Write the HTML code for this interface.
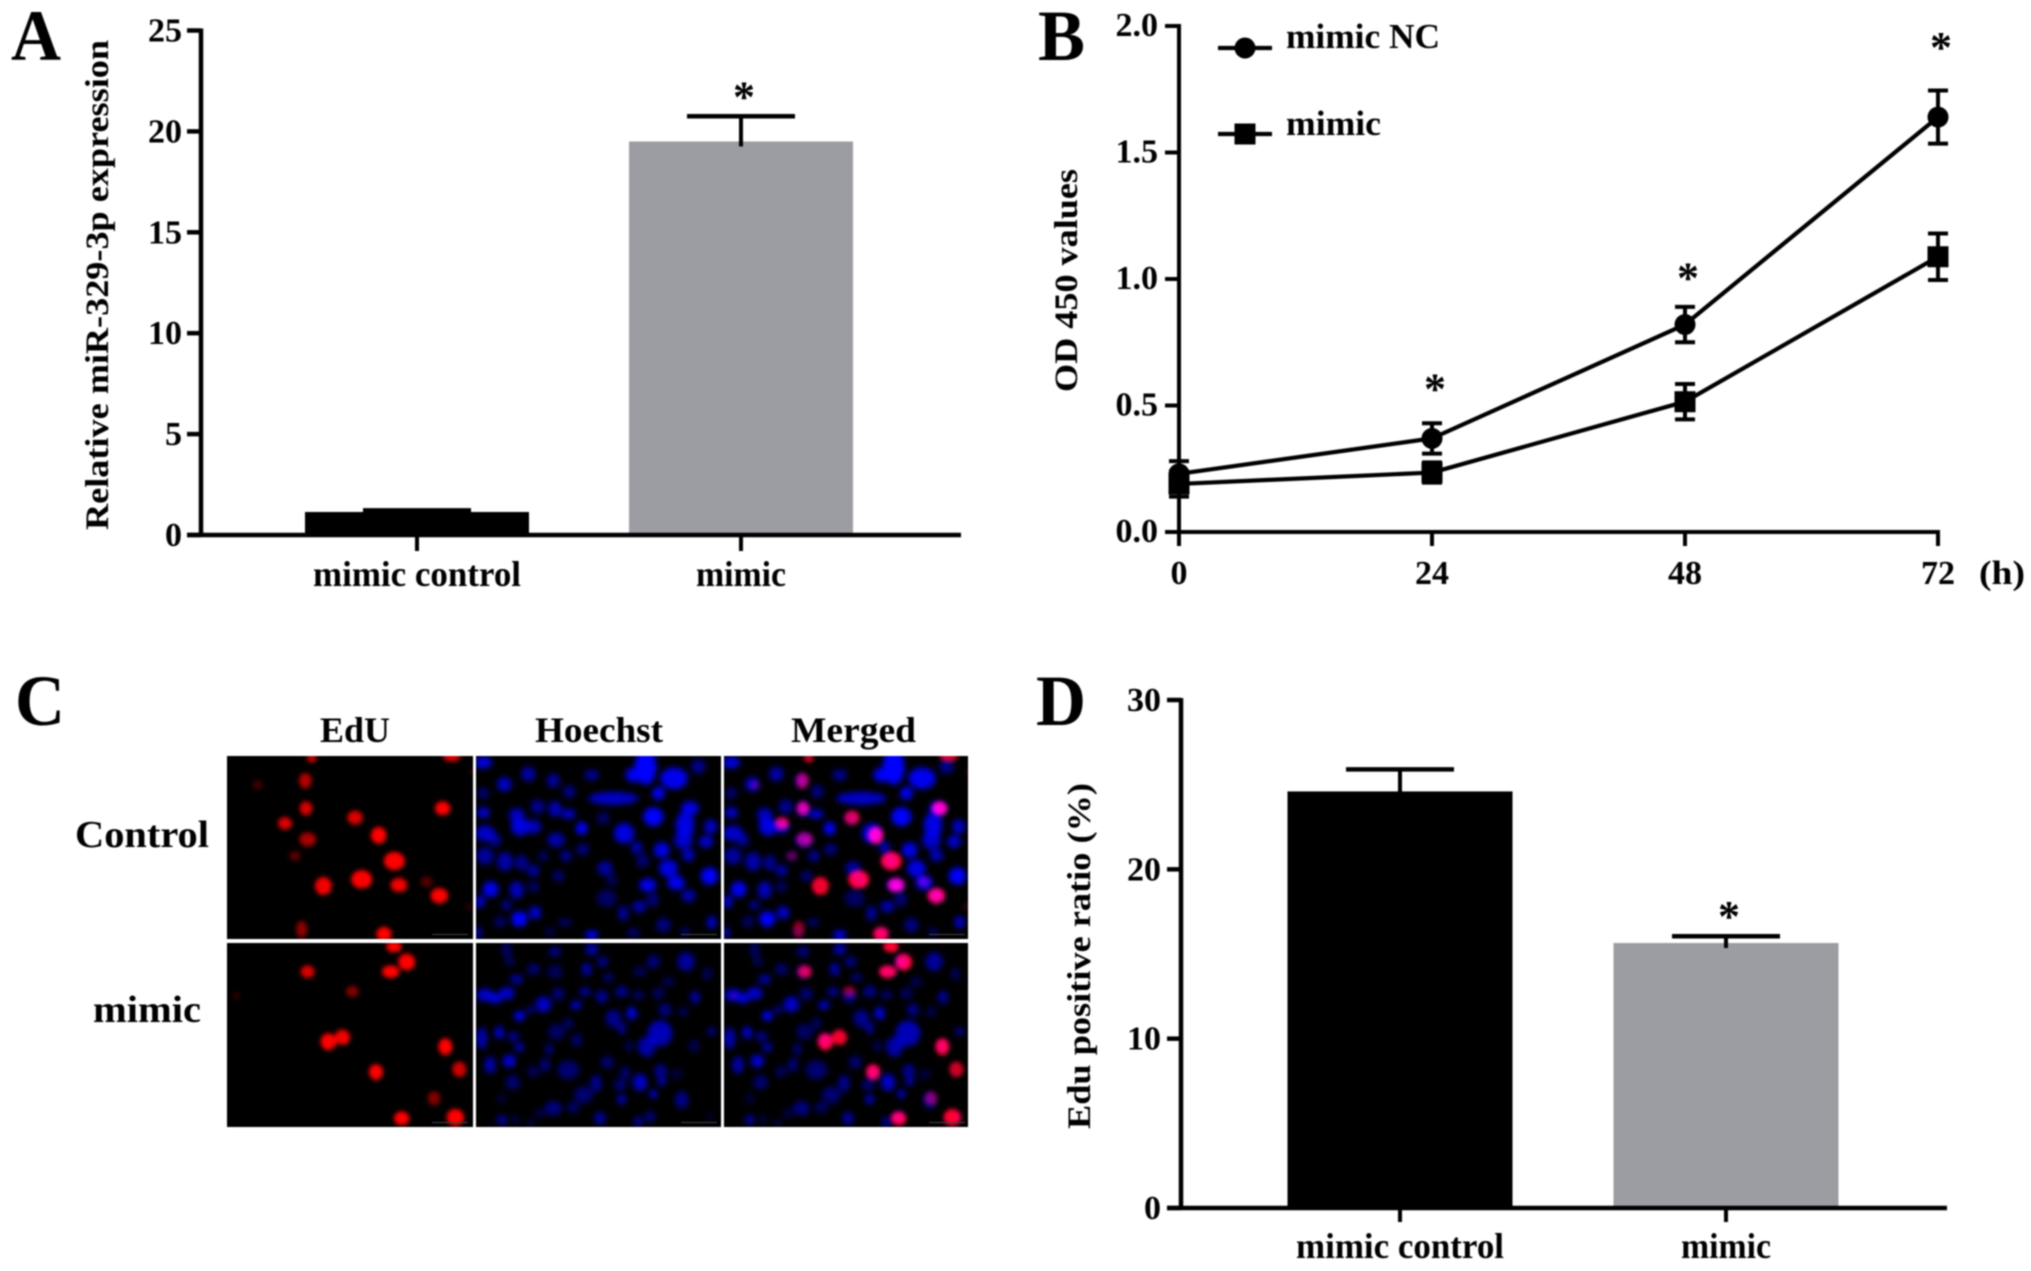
<!DOCTYPE html>
<html lang="en">
<head>
<meta charset="utf-8">
<title>miR-329-3p mimic figure</title>
<style>
html,body{margin:0;padding:0;background:#fff;width:2031px;height:1271px;overflow:hidden}
svg{display:block;filter:blur(0.9px)}
text{font-family:"Liberation Serif",serif;font-weight:bold;fill:#000}
</style>
</head>
<body>
<svg id="fig" xmlns="http://www.w3.org/2000/svg" width="2031" height="1271" viewBox="0 0 2031 1271">
  <rect x="0" y="0" width="2031" height="1271" fill="#fff"/>
  <text x="11" y="60" font-size="72" textLength="50" lengthAdjust="spacingAndGlyphs">A</text>
  <text x="1038" y="60" font-size="72" textLength="47" lengthAdjust="spacingAndGlyphs">B</text>
  <text x="15" y="725" font-size="72" textLength="50" lengthAdjust="spacingAndGlyphs">C</text>
  <text x="1036" y="725" font-size="72" textLength="50" lengthAdjust="spacingAndGlyphs">D</text>
  <text x="320" y="742" font-size="36" textLength="70" lengthAdjust="spacingAndGlyphs">EdU</text>
  <text x="535" y="742" font-size="36" textLength="128" lengthAdjust="spacingAndGlyphs">Hoechst</text>
  <text x="791" y="742" font-size="36" textLength="125" lengthAdjust="spacingAndGlyphs">Merged</text>
  <text x="75" y="847" font-size="38" textLength="134" lengthAdjust="spacingAndGlyphs">Control</text>
  <text x="93" y="1022" font-size="38" textLength="108" lengthAdjust="spacingAndGlyphs">mimic</text>
  <text transform="translate(108,530) rotate(-90)" font-size="33" textLength="490" lengthAdjust="spacingAndGlyphs">Relative miR-329-3p expression</text>
  <text transform="translate(1077,392) rotate(-90)" font-size="33" textLength="223" lengthAdjust="spacingAndGlyphs">OD 450 values</text>
  <text transform="translate(1090,1129) rotate(-90)" font-size="33" textLength="346" lengthAdjust="spacingAndGlyphs">Edu positive ratio (%)</text>
  <text x="1979" y="584" font-size="34" textLength="46" lengthAdjust="spacingAndGlyphs">(h)</text>
  <defs>
    <filter id="soft-red" x="-5%" y="-5%" width="110%" height="110%"><feGaussianBlur stdDeviation="2"/></filter>
    <filter id="soft-blue" x="-5%" y="-5%" width="110%" height="110%"><feGaussianBlur stdDeviation="2.8"/></filter>
    <clipPath id="clip-edu"><rect x="227" y="756" width="246" height="371"/></clipPath>
    <clipPath id="clip-hoechst"><rect x="476" y="756" width="245" height="371"/></clipPath>
    <clipPath id="clip-merged"><rect x="724" y="756" width="244" height="371"/></clipPath>
  </defs>
  <g id="micro"></g>
  <g id="chartA"></g>
  <g id="chartB"></g>
  <g id="chartD"></g>
</svg>
<script>
// Panel A data
const aCategories = ['mimic control', 'mimic'];
const aValues = [1.14, 19.5];
const aErrors = [0.08, 1.25];
const aTicks = [0, 5, 10, 15, 20, 25];
const aStars = [false, true];
// Panel B data
const bHours = [0, 24, 48, 72];
const bNC = [0.23, 0.37, 0.82, 1.64];
const bNCErr = [0.05, 0.06, 0.07, 0.105];
const bMimic = [0.19, 0.235, 0.515, 1.088];
const bMimicErr = [0.05, 0.04, 0.07, 0.092];
const bTicks = ['0.0', '0.5', '1.0', '1.5', '2.0'];
const bStarHours = [24, 48, 72];
const bStarValues = [0.59, 1.03, 1.94];
// Panel D data
const dCategories = ['mimic control', 'mimic'];
const dValues = [24.6, 15.65];
const dErrors = [1.3, 0.4];
const dTicks = [0, 10, 20, 30];
const dStars = [false, true];
// Fluorescence nuclei: x, y, rx, ry, opacity
const redNuclei = [[275,25,14,12,.8],[256,92,18,22,.7],[258,175,18,20,.85],[195,220,20,18,.85],[405,203,22,20,.85],[476,256,22,24,1],[523,333,30,26,1],[425,388,30,26,1],[310,408,24,26,.95],[537,405,24,20,.95],[263,268,24,20,.65],[225,318,16,14,.35],[620,395,18,16,.3],[658,437,25,22,1],[668,175,22,20,1],[695,20,25,14,.85],[113,105,14,14,.25],[245,538,16,24,.55],[492,552,22,20,1],[745,470,8,10,.2],[755,65,6,10,.2],[522,590,22,16,1],[560,636,24,24,1],[512,665,25,18,1],[263,665,20,18,.85],[397,724,18,16,.5],[50,738,10,10,.2],[325,875,22,24,1],[367,862,22,22,.95],[676,890,20,24,1],[468,966,20,22,1],[718,958,20,22,.8],[642,1045,18,20,.5],[545,1105,22,20,1],[706,1102,25,24,1]];
const blueNuclei = [[40,38,24,16,.8],[175,72,20,20,.6],[103,103,20,20,.7],[250,92,18,20,.55],[365,75,20,16,.5],[527,50,30,50,1],[490,75,22,20,.85],[612,85,38,30,.85],[685,50,20,20,.5],[298,125,18,18,.45],[40,130,16,16,.4],[565,130,18,18,.85],[430,145,70,18,.7],[40,188,18,16,.7],[203,170,20,20,.5],[255,177,18,22,.65],[295,192,20,14,.7],[140,195,22,20,.65],[150,230,25,25,.8],[190,230,22,20,.65],[550,200,28,26,1],[660,175,25,20,.8],[400,205,18,18,.35],[335,235,16,18,1],[45,250,28,22,.7],[75,270,18,18,.5],[462,250,28,28,.8],[645,225,26,35,.8],[722,230,18,20,.7],[258,270,24,20,.6],[708,275,20,18,.7],[640,270,26,25,.7],[338,298,18,16,.45],[500,293,16,18,.6],[575,300,22,22,.8],[288,318,16,16,.5],[45,318,24,24,.55],[655,315,18,18,.65],[220,318,16,16,.3],[105,335,22,26,.6],[155,338,18,22,.5],[518,332,18,20,.4],[190,362,18,16,.55],[405,355,22,20,.55],[595,355,26,24,.8],[265,378,16,16,.4],[718,378,24,24,.9],[425,390,16,18,.3],[533,405,24,18,.85],[618,398,24,20,.85],[62,418,22,22,.85],[140,420,20,24,.65],[190,410,16,16,.35],[655,437,20,18,.6],[410,445,28,24,.35],[30,455,14,18,.7],[110,465,16,14,.45],[548,448,18,20,.4],[508,470,20,16,.6],[195,488,18,18,.7],[148,507,22,22,.9],[460,490,14,22,.55],[90,515,18,16,.35],[285,517,18,10,.4],[580,525,20,20,.45],[725,517,14,18,.7],[365,555,18,14,.8],[240,545,14,14,.25],[490,548,18,14,.35],[645,545,14,12,.35],[25,548,10,16,.6],[110,600,14,22,.35],[365,598,18,16,.6],[255,605,18,14,.45],[120,635,14,10,.4],[550,635,18,18,.45],[648,635,24,26,.55],[398,635,16,14,.5],[190,658,18,16,.4],[350,658,14,18,.6],[255,665,22,20,.3],[510,665,20,14,.3],[140,688,18,14,.55],[712,672,14,18,.3],[415,682,16,12,.4],[595,695,16,14,.3],[45,735,24,18,.7],[75,745,18,14,.8],[110,730,22,18,.7],[345,725,16,14,.5],[265,732,18,18,.4],[395,740,18,18,.5],[455,725,18,16,.5],[505,735,16,14,.35],[565,730,18,18,.3],[675,742,14,18,.55],[220,763,22,22,.7],[318,765,16,12,.7],[585,780,18,18,.45],[148,798,14,14,.9],[485,790,14,18,.8],[180,780,14,12,.4],[430,805,22,24,.5],[640,785,14,14,.3],[295,820,14,16,.35],[455,835,14,16,.5],[35,865,16,30,.6],[88,848,14,18,.7],[130,860,16,14,.5],[260,845,24,22,.35],[570,850,34,36,.65],[725,845,12,12,.5],[320,870,16,18,.35],[530,890,24,28,.6],[148,892,14,14,.55],[238,898,12,18,.4],[478,888,12,16,.3],[672,888,14,18,.3],[118,933,18,18,.75],[60,945,16,24,.6],[225,945,14,18,.45],[412,937,18,18,.4],[295,960,30,26,.4],[190,965,18,16,.3],[465,970,16,20,.35],[572,962,18,18,.5],[620,972,16,14,.25],[128,997,20,20,.4],[378,1000,16,24,.5],[510,997,20,24,.7],[575,993,14,14,.55],[450,1005,18,16,.4],[340,1035,26,24,.4],[550,1032,12,12,.7],[95,1045,14,14,.2],[455,1048,14,14,.6],[635,1050,18,24,.5],[250,1075,24,20,.45],[310,1072,18,16,.35],[210,1090,14,14,.25],[390,1105,16,18,.55],[95,1110,14,14,.55],[505,1115,14,14,.5],[540,1100,16,16,.4],[180,1118,10,10,.3],[135,1108,12,12,.25],[720,1100,10,12,.15]];

const NS = 'http://www.w3.org/2000/svg';
function make(tag, parent, props, content) {
  const n = document.createElementNS(NS, tag);
  for (const k in props) n.setAttribute(k, props[k]);
  if (content !== undefined) n.textContent = content;
  parent.appendChild(n);
  return n;
}
function line(parent, x1, y1, x2, y2, w) {
  return make('line', parent, {x1: x1, y1: y1, x2: x2, y2: y2, stroke: '#000', 'stroke-width': w});
}
function label(parent, x, y, size, anchor, s, width) {
  const props = {x: x, y: y, 'font-size': size, 'text-anchor': anchor};
  if (width) { props.textLength = width; props.lengthAdjust = 'spacingAndGlyphs'; }
  return make('text', parent, props, s);
}

/* ---------- Panel A ---------- */
const yA = v => 535 - v * 504.5 / 25;
const xA = i => 417 + i * 324;
const gA = document.getElementById('chartA');
const barFillsA = ['#000', '#9c9ca3'];
aValues.forEach((v, i) => {
  const bar = make('rect', gA, {x: xA(i) - 112, y: yA(v), width: 224, height: 535 - yA(v), fill: barFillsA[i]});
  
  
  const stem = line(gA, xA(i), yA(v + aErrors[i]), xA(i), yA(v) + 5, 4);
  
  
  const cap = line(gA, xA(i) - 54, yA(v + aErrors[i]), xA(i) + 54, yA(v + aErrors[i]), 4.5);
  
  
  const tick = line(gA, xA(i), 535, xA(i), 551, 4);
  
  
  const cat = label(gA, xA(i), 586, 36, 'middle', aCategories[i], i === 0 ? 208 : 90);
  
  
  if (aStars[i]) {
    const star = label(gA, xA(i) + 3, yA(v + aErrors[i]) - 5, 44, 'middle', '*');
    
    
  }
});
const axisAy = line(gA, 201, 28.5, 201, 537, 4.5);


const axisAx = line(gA, 187, 535, 961, 535, 4.5);


aTicks.forEach(t => {
  const tk = line(gA, 187, yA(t), 201, yA(t), 4.5);
  
  
  const lb = label(gA, 182, yA(t) + 11, 34, 'end', String(t));
  
  
});

/* ---------- Panel B ---------- */
const yB = v => 532 - v * 253;
const xB = h => 1179 + h * 253 / 24;
const gB = document.getElementById('chartB');
const axisBy = line(gB, 1179, 24, 1179, 546, 4);


const axisBx = line(gB, 1165, 532, 1940, 532, 4);


bTicks.forEach(t => {
  const tk = line(gB, 1165, yB(+t), 1179, yB(+t), 4);
  
  
  const lb = label(gB, 1158, yB(+t) + 10, 34, 'end', t);
  
  
});
bHours.forEach(h => {
  const tk = line(gB, xB(h), 532, xB(h), 546, 4);
  
  
  const lb = label(gB, xB(h), 584, 34, 'middle', String(h));
  
  
});
function series(values, errs, shape) {
  const pts = values.map((v, i) => xB(bHours[i]) + ',' + yB(v)).join(' ');
  const pl = make('polyline', gB, {points: pts, fill: 'none', stroke: '#000', 'stroke-width': 4.2, 'stroke-linejoin': 'round'});
  
  
  values.forEach((v, i) => {
    const x = xB(bHours[i]);
    const s = line(gB, x, yB(v + errs[i]), x, yB(v - errs[i]), 4);
    
    
    const c1 = line(gB, x - 10, yB(v + errs[i]), x + 10, yB(v + errs[i]), 4);
    
    
    const c2 = line(gB, x - 10, yB(v - errs[i]), x + 10, yB(v - errs[i]), 4);
    
    
    const m = shape === 'circle'
      ? make('circle', gB, {cx: x, cy: yB(v), r: 10.5, fill: '#000'})
      : make('rect', gB, {x: x - 10.5, y: yB(v) - 10.5, width: 21, height: 21, fill: '#000'});
    
    
  });
}
series(bNC, bNCErr, 'circle');
series(bMimic, bMimicErr, 'square');
bStarHours.forEach((h, i) => {
  const st = label(gB, xB(h) + 3, yB(bStarValues[i]) + 21, 44, 'middle', '*');
  
  
});
const leg1Line = line(gB, 1218, 48, 1272, 48, 4.2);


const leg1M = make('circle', gB, {cx: 1245, cy: 48, r: 10.5, fill: '#000'});


const leg1T = label(gB, 1286, 48, 35, 'start', 'mimic NC', 154);


const leg2Line = line(gB, 1218, 134, 1272, 134, 4.2);


const leg2M = make('rect', gB, {x: 1234.5, y: 123.5, width: 21, height: 21, fill: '#000'});


const leg2T = label(gB, 1286, 135, 35, 'start', 'mimic', 95);



/* ---------- Panel D ---------- */
const yD = v => 1208 - v * 508 / 30;
const xD = i => 1400 + i * 326;
const gD = document.getElementById('chartD');
const barFillsD = ['#000', '#9c9ca3'];
dValues.forEach((v, i) => {
  const bar = make('rect', gD, {x: xD(i) - 112.5, y: yD(v), width: 225, height: 1208 - yD(v), fill: barFillsD[i]});
  
  
  const stem = line(gD, xD(i), yD(v + dErrors[i]), xD(i), yD(v) + 5, 4);
  
  
  const cap = line(gD, xD(i) - 54, yD(v + dErrors[i]), xD(i) + 54, yD(v + dErrors[i]), 4.5);
  
  
  const tick = line(gD, xD(i), 1208, xD(i), 1222, 4);
  
  
  const cat = label(gD, xD(i), 1258, 36, 'middle', dCategories[i], i === 0 ? 208 : 90);
  
  
  if (dStars[i]) {
    const star = label(gD, xD(i) + 3, yD(v + dErrors[i]) - 5, 44, 'middle', '*');
    
    
  }
});
const axisDy = line(gD, 1181, 698, 1181, 1210, 4.5);


const axisDx = line(gD, 1167, 1208, 1947, 1208, 4.5);


dTicks.forEach(t => {
  const tk = line(gD, 1167, yD(t), 1181, yD(t), 4.5);
  
  
  const lb = label(gD, 1161, yD(t) + 11, 34, 'end', String(t));
  
  
});

/* ---------- Panel C micrographs ---------- */
const gM = document.getElementById('micro');
function nuclei(parent, list, color, originX, blend, filterId, grow, boost) {
  const g = make('g', parent, {fill: color, filter: 'url(#' + filterId + ')'});
  if (blend) g.setAttribute('style', 'mix-blend-mode:screen');
  list.forEach(n => make('ellipse', g, {
    cx: originX + n[0] / 3, cy: 750 + n[1] / 3, rx: n[2] * grow / 3, ry: n[3] * grow / 3,
    'fill-opacity': Math.min(1, n[4] * boost)
  }));
  return g;
}
function panel(name, clip, x, w) {
  const g = make('g', gM, {'clip-path': 'url(#' + clip + ')', style: 'isolation:isolate'});
  
  
  make('rect', g, {x: x, y: 756, width: w, height: 371, fill: '#000'});
  return g;
}
const pE = panel('edu-image', 'clip-edu', 227, 246);
nuclei(pE, redNuclei, '#ff0000', 220, false, 'soft-red', 1.05, 1);
const pH = panel('hoechst-image', 'clip-hoechst', 476, 245);
nuclei(pH, blueNuclei, '#0000ff', 470, false, 'soft-blue', 1.08, 1.1);
const pM = panel('merged-image', 'clip-merged', 724, 244);
nuclei(pM, blueNuclei, '#0000ff', 718, false, 'soft-blue', 1.08, 1.1);
nuclei(pM, redNuclei, '#ff0030', 717, true, 'soft-red', 1.05, 1);
[227, 476, 724].forEach(x => {
  const gap = make('rect', gM, {x: x - 1, y: 939, width: 248, height: 4, fill: '#fff'});
  
  
  [934, 1122].forEach(y => {
    const sb = make('rect', gM, {x: x + 205, y: y, width: 36, height: 1, fill: '#444'});
    
    
  });
});
</script>
</body>
</html>
